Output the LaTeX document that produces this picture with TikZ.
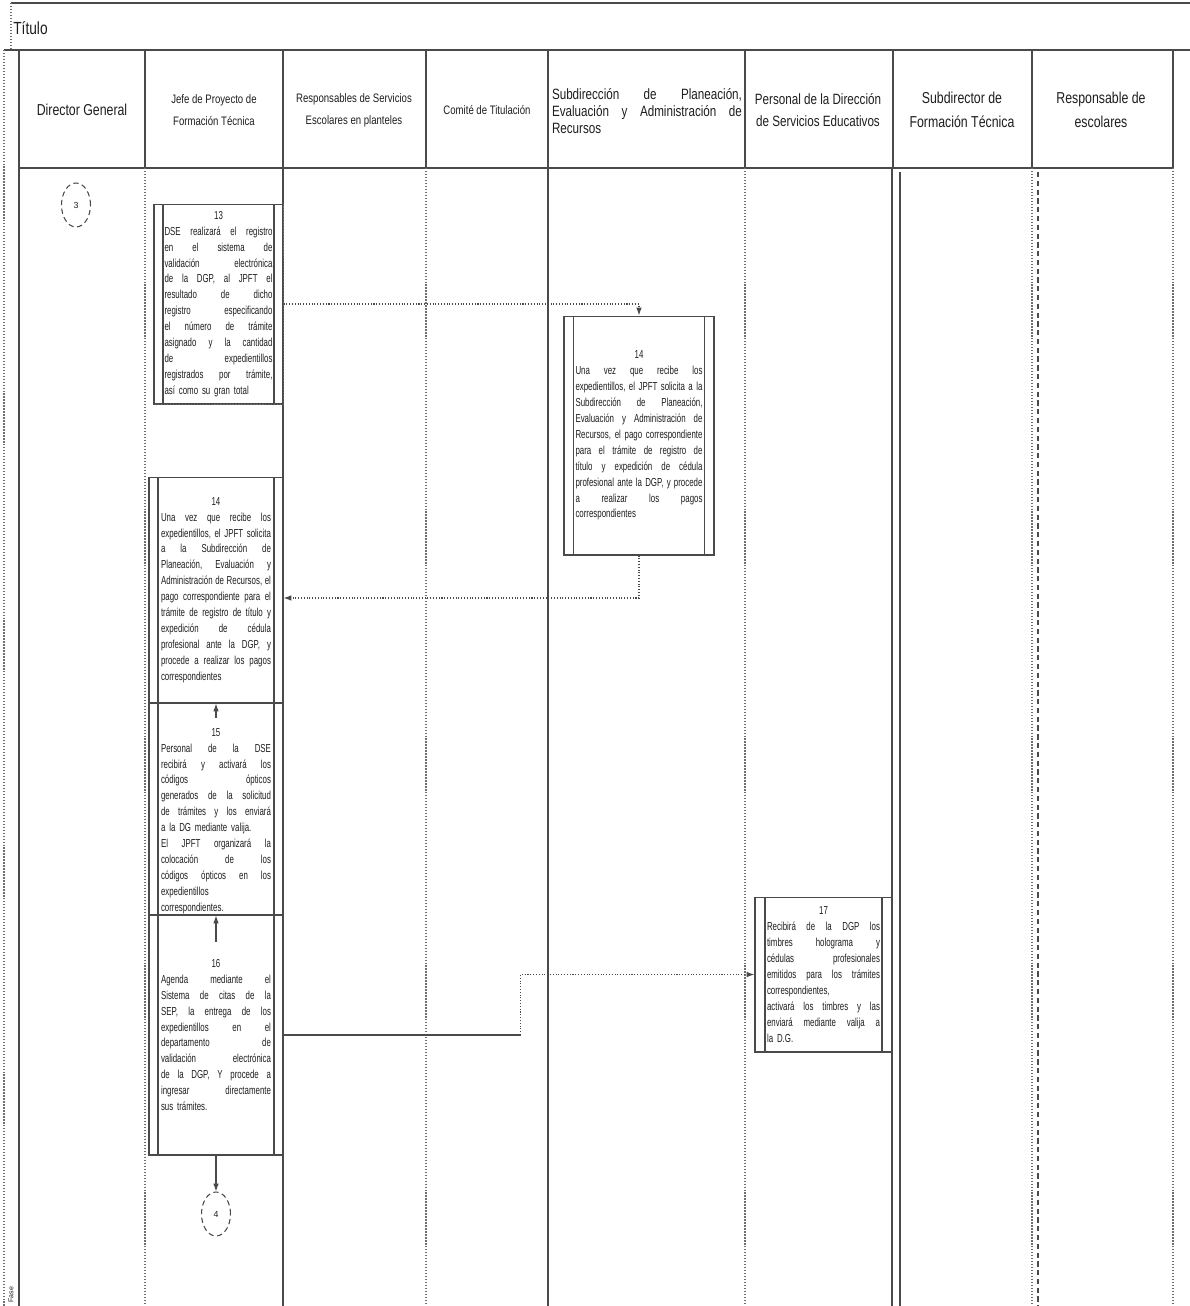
\documentclass[tikz,border=0pt]{standalone}
\usepackage{fontspec}
\setmainfont{Liberation Sans}
\newfontfamily\nf[FakeStretch=0.78]{Liberation Sans}
\newfontfamily\bxf[FakeStretch=0.68]{Liberation Sans}
\usetikzlibrary{shapes.geometric,arrows.meta}
\definecolor{linec}{HTML}{4A4A4A}
\definecolor{txtc}{HTML}{1E1E1E}
% one justified line across the full text width (word gaps share the slack)
\newcommand\J[1]{\makebox[\linewidth][s]{\frenchspacing\spaceskip=\fontdimen2\font plus 1fil\relax\xspaceskip=\spaceskip #1}}
% one centred line (step numbers)
\newcommand\C[1]{\makebox[\linewidth]{#1}}
\begin{document}
\begin{tikzpicture}[x=0.02cm,y=-0.02cm,
  frame/.style={draw=linec,line width=1pt},
  lane/.style={draw=linec,line width=0.6pt},
  lanedot/.style={draw=linec!80,line width=0.7pt,densely dotted},
  head/.style={text=txtc,align=center,inner sep=0pt},
  boxtext/.style={text=txtc,align=left,inner sep=0pt,font=\bxf\fontsize{6.6}{9.07}\selectfont},
  proc/.style={draw=linec,line width=0.6pt,rectangle,inner sep=0pt,boxtext,
    path picture={\draw[linec,line width=0.6pt]
      ([xshift=#1]path picture bounding box.north west) -- ([xshift=#1]path picture bounding box.south west)
      ([xshift=-#1]path picture bounding box.north east) -- ([xshift=-#1]path picture bounding box.south east);}},
  conn/.style={draw=linec,line width=0.6pt,-{Latex[length=4.5pt,width=3.2pt]}},
  link/.style={draw=linec,line width=0.6pt},
  conector/.style={ellipse,draw=linec,densely dashed,line width=0.6pt,
    minimum width=0.58cm,minimum height=0.88cm,inner sep=0pt,
    text=txtc,font=\fontsize{5}{6}\selectfont}]
\useasboundingbox (0,0) rectangle (1190,1306);

% ---- title strip ----
\draw[frame] (11,3) -- (1190,3);
\draw[lanedot] (11,3) -- (11,50);
\node[anchor=west,text=txtc,inner sep=0pt,font=\nf\fontsize{10}{12}\selectfont] (titulo) at (13,28) {Título};

% ---- header row ----
\draw[frame] (4,50) -- (1190,50);
\draw[frame] (19,168) -- (1173,168);
\foreach \xx in {19,145,283,426,548,745,893,1032,1173}
  \draw[frame] (\xx,50) -- (\xx,168);

\node[head,font=\nf\fontsize{9}{11}\selectfont] (h1) at (82,110) {Director General};
\node[head,font=\nf\fontsize{7}{12.5}\selectfont] (h2) at (214,110) {Jefe de Proyecto de\\Formación Técnica};
\node[head,font=\nf\fontsize{7}{12.5}\selectfont] (h3) at (354,110) {Responsables de Servicios\\Escolares en planteles};
\node[head,font=\nf\fontsize{7}{12.5}\selectfont] (h4) at (487,110) {Comité de Titulación};
\node[head,align=left,text width=3.8cm,font=\nf\fontsize{8.5}{9.6}\selectfont] (h5) at (647,111)
  {\J{Subdirección de Planeación,}\\\J{Evaluación y Administración de}\\Recursos};
\node[head,font=\nf\fontsize{8.5}{12.5}\selectfont] (h6) at (818,110) {Personal de la Dirección\\de Servicios Educativos};
\node[head,font=\nf\fontsize{9}{13.6}\selectfont] (h7) at (962,110) {Subdirector de\\Formación Técnica};
\node[head,font=\nf\fontsize{9}{13.6}\selectfont] (h8) at (1101,110) {Responsable de\\escolares};

% ---- swimlane borders ----
\draw[lanedot] (4,50) -- (4,1306);
\draw[lane,line width=0.9pt] (19,168) -- (19,1306);
\draw[lanedot] (145,168) -- (145,1306);
\draw[lane] (283,168) -- (283,1306);
\draw[lanedot] (426,168) -- (426,1306);
\draw[lane] (548,168) -- (548,1306);
\draw[lanedot] (745,168) -- (745,1306);
\draw[lane] (892,168) -- (892,1306);
\draw[lane] (900,172) -- (900,1306);
\draw[lanedot] (1032,168) -- (1032,1306);
\draw[lane,densely dashed] (1038,172) -- (1038,1306);
\draw[lanedot] (1173,168) -- (1173,1306);
\node[rotate=90,anchor=west,text=txtc,inner sep=0pt,font=\fontsize{4}{5}\selectfont] (fase) at (11,1303) {Fase};

% ---- off-page connectors ----
\node[conector] (c3) at (76,205) {3};
\node[conector] (c4) at (216,1214) {4};

% ---- activities ----
\node[proc=0.18cm,text width=2.16cm,minimum width=2.58cm,minimum height=4cm] (b13) at (218.5,304)
{\C{13}\\
\J{DSE realizará el registro}\\
\J{en el sistema de}\\
\J{validación electrónica}\\
\J{de la DGP, al JPFT el}\\
\J{resultado de dicho}\\
\J{registro especificando}\\
\J{el número de trámite}\\
\J{asignado y la cantidad}\\
\J{de expedientillos}\\
\J{registrados por trámite,}\\
así como su gran total};
% dotted outer edges on the right and bottom
\draw[lanedot] (b13.north east) -- (b13.south east) -- (b13.south west);

\node[proc=0.19cm,text width=2.54cm,minimum width=3cm,minimum height=4.78cm] (b14r) at (639,435.5)
{\C{14}\\
\J{Una vez que recibe los}\\
\J{expedientillos, el JPFT solicita a la}\\
\J{Subdirección de Planeación,}\\
\J{Evaluación y Administración de}\\
\J{Recursos, el pago correspondiente}\\
\J{para el trámite de registro de}\\
\J{título y expedición de cédula}\\
\J{profesional ante la DGP, y procede}\\
\J{a realizar los pagos}\\
correspondientes};

\node[proc=0.18cm,text width=2.2cm,minimum width=2.68cm,minimum height=4.52cm] (b14l) at (216,590)
{\C{14}\\
\J{Una vez que recibe los}\\
\J{expedientillos, el JPFT solicita}\\
\J{a la Subdirección de}\\
\J{Planeación, Evaluación y}\\
\J{Administración de Recursos, el}\\
\J{pago correspondiente para el}\\
\J{trámite de registro de título y}\\
\J{expedición de cédula}\\
\J{profesional ante la DGP, y}\\
\J{procede a realizar los pagos}\\
correspondientes};

\node[proc=0.18cm,minimum width=2.68cm,minimum height=4.24cm] (b15) at (216,809) {};
\node[boxtext,text width=2.2cm] (t15) at (216,821)
{\C{15}\\
\J{Personal de la DSE}\\
\J{recibirá y activará los}\\
\J{códigos ópticos}\\
\J{generados de la solicitud}\\
\J{de trámites y los enviará}\\
a la DG mediante valija.\\
\J{El JPFT organizará la}\\
\J{colocación de los}\\
\J{códigos ópticos en los}\\
expedientillos\\
correspondientes.};

\node[proc=0.18cm,text width=2.2cm,minimum width=2.68cm,minimum height=4.8cm] (b16) at (216,1035)
{\C{16}\\
\J{Agenda mediante el}\\
\J{Sistema de citas de la}\\
\J{SEP, la entrega de los}\\
\J{expedientillos en el}\\
\J{departamento de}\\
\J{validación electrónica}\\
\J{de la DGP, Y procede a}\\
\J{ingresar directamente}\\
sus trámites.};

\node[proc=0.2cm,text width=2.26cm,minimum width=2.74cm,minimum height=3.1cm] (b17) at (823.5,974.5)
{\C{17}\\
\J{Recibirá de la DGP los}\\
\J{timbres holograma y}\\
\J{cédulas profesionales}\\
\J{emitidos para los trámites}\\
correspondientes,\\
\J{activará los timbres y las}\\
\J{enviará mediante valija a}\\
la D.G.};

% ---- flow ----
\draw[conn,densely dotted] (b13.east) -| (b14r.north);
\draw[conn,densely dotted] (b14r.south) |- ([yshift=-0.16cm]b14l.east);
\draw[conn] ([yshift=-0.3cm]b15.north) -- (b14l.south);
\draw[conn] ([yshift=-0.54cm]b16.north) -- (b15.south);
\draw[link] (b16.east) -- ++(237,0) coordinate (k16);
\draw[conn,densely dotted] (k16) |- (b17.west);
\draw[conn] (b16.south) -- (c4.north);
\end{tikzpicture}
\end{document}
